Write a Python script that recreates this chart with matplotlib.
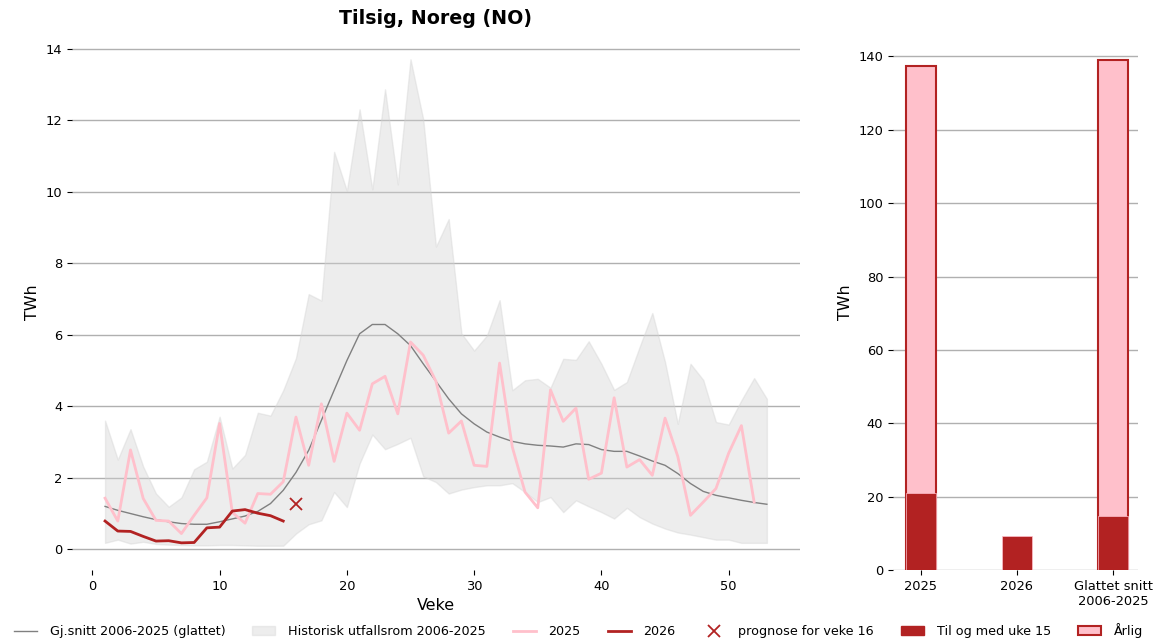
import numpy as np
import matplotlib
matplotlib.use("Agg")
import matplotlib.pyplot as plt
from matplotlib.lines import Line2D
from matplotlib.patches import Patch

weeks = list(range(1, 54))
hist_upper = [3.60, 2.51, 3.36, 2.31, 1.56, 1.19, 1.45, 2.24, 2.45, 3.71,
              2.26, 2.64, 3.82, 3.74, 4.45, 5.35, 7.14, 6.96, 11.12, 10.03,
              12.31, 10.07, 12.87, 10.21, 13.71, 12.03, 8.47, 9.24, 6.04, 5.56,
              5.98, 6.97, 4.45, 4.73, 4.77, 4.52, 5.33, 5.30, 5.82, 5.19,
              4.46, 4.68, 5.66, 6.61, 5.24, 3.51, 5.19, 4.74, 3.56, 3.49,
              4.17, 4.79, 4.21]
hist_lower = [0.18, 0.27, 0.16, 0.21, 0.15, 0.13, 0.12, 0.11, 0.11, 0.12,
              0.12, 0.11, 0.10, 0.10, 0.10, 0.44, 0.70, 0.81, 1.60, 1.18,
              2.40, 3.21, 2.80, 2.95, 3.12, 2.04, 1.88, 1.56, 1.67, 1.74,
              1.79, 1.79, 1.85, 1.60, 1.32, 1.46, 1.04, 1.37, 1.20, 1.04,
              0.86, 1.16, 0.90, 0.72, 0.58, 0.47, 0.41, 0.34, 0.27, 0.27,
              0.18, 0.18, 0.18]
avg_smoothed = [1.20, 1.09, 1.00, 0.91, 0.83, 0.77, 0.72, 0.70, 0.70, 0.77,
                0.85, 0.93, 1.06, 1.28, 1.65, 2.15, 2.77, 3.61, 4.45, 5.28,
                6.03, 6.29, 6.29, 6.03, 5.70, 5.19, 4.70, 4.21, 3.79, 3.51,
                3.28, 3.14, 3.02, 2.95, 2.91, 2.89, 2.86, 2.95, 2.93, 2.79,
                2.74, 2.74, 2.61, 2.47, 2.35, 2.12, 1.84, 1.62, 1.51, 1.44,
                1.37, 1.31, 1.26]
weeks_2025 = list(range(1, 53))
inflow_2025 = [1.43, 0.79, 2.78, 1.42, 0.81, 0.79, 0.44, 0.95, 1.44, 3.52,
               1.03, 0.73, 1.56, 1.54, 1.89, 3.70, 2.35, 4.07, 2.46, 3.81,
               3.33, 4.63, 4.84, 3.79, 5.80, 5.43, 4.70, 3.25, 3.59, 2.35,
               2.32, 5.21, 2.86, 1.60, 1.16, 4.46, 3.58, 3.95, 1.96, 2.13,
               4.24, 2.30, 2.51, 2.07, 3.67, 2.60, 0.95, 1.32, 1.70, 2.69,
               3.46, 1.32]
weeks_2026 = list(range(1, 16))
inflow_2026 = [0.79, 0.51, 0.50, 0.36, 0.23, 0.24, 0.18, 0.19, 0.60, 0.62,
               1.07, 1.11, 1.01, 0.94, 0.79]
forecast_week = [16]
forecast_value = [1.27]

bar_categories = ["2025", "2026", "Glattet snitt\n2006-2025"]
bar_to_week15 = [21.0, 9.2, 14.7]
bar_annual = [137.3, np.nan, 138.9]

plt.rcParams['font.family'] = ['DejaVu Sans']
fig = plt.figure(figsize=(11.57, 6.42), dpi=100)
ax = fig.add_axes([0.0622, 0.1121, 0.6292, 0.8334])
ax2 = fig.add_axes([0.7718, 0.1121, 0.2118, 0.8334])

grid_kw = dict(color='#b0b0b0', linewidth=1.0)
tick_fs = 9.4

ax.fill_between(weeks, hist_lower, hist_upper, color='lightgray', alpha=0.4,
                label='Historisk utfallsrom 2006-2025')
ax.plot(weeks, avg_smoothed, color='gray', linewidth=1.0,
        label='Gj.snitt 2006-2025 (glattet)')
ax.plot(weeks_2025, inflow_2025, color='pink', linewidth=2.0, label='2025')
ax.plot(weeks_2026, inflow_2026, color='firebrick', linewidth=2.0, label='2026')
ax.plot(forecast_week, forecast_value, linestyle='none', marker='x',
        color='firebrick', markersize=8, markeredgewidth=1.3,
        label='prognose for veke 16')
ax.set_axisbelow(True)
ax.yaxis.grid(True, **grid_kw)
for s in ax.spines.values():
    s.set_visible(False)
ax.set_xticks([0, 10, 20, 30, 40, 50])
ax.set_yticks([0, 2, 4, 6, 8, 10, 12, 14])
ax.tick_params(labelsize=tick_fs)
ax.set_xlabel('Veke', fontsize=11.4)
ax.set_ylabel('TWh', fontsize=11.4)
ax.set_title('Tilsig, Noreg (NO)', fontsize=13.7, fontweight='bold', pad=8)

x = np.arange(len(bar_categories))
ax2.bar(x, bar_annual, width=0.31, color='pink', edgecolor='firebrick',
        linewidth=1.5, label='Årlig')
ax2.bar(x, bar_to_week15, width=0.31, color='firebrick', edgecolor='pink',
        linewidth=0.5, label='Til og med uke 15')
ax2.set_axisbelow(True)
ax2.yaxis.grid(True, **grid_kw)
for s in ax2.spines.values():
    s.set_visible(False)
ax2.set_xlim(-0.29, 2.26)
ax2.set_xticks(x)
ax2.set_xticklabels(bar_categories)
ax2.set_yticks([0, 20, 40, 60, 80, 100, 120, 140])
ax2.tick_params(labelsize=tick_fs)
ax2.set_ylabel('TWh', fontsize=11.4)

handles = [
    Line2D([], [], color='gray', linewidth=1.0),
    Patch(facecolor='lightgray', alpha=0.4, edgecolor='lightgray'),
    Line2D([], [], color='pink', linewidth=2.0),
    Line2D([], [], color='firebrick', linewidth=2.0),
    Line2D([], [], linestyle='none', marker='x', color='firebrick',
           markersize=8, markeredgewidth=1.3),
    Patch(facecolor='firebrick', edgecolor='firebrick'),
    Patch(facecolor='pink', edgecolor='firebrick', linewidth=1.5),
]
labels = ['Gj.snitt 2006-2025 (glattet)', 'Historisk utfallsrom 2006-2025',
          '2025', '2026', 'prognose for veke 16', 'Til og med uke 15', 'Årlig']
fig.legend(handles, labels, loc='lower center', bbox_to_anchor=(0.5, -0.012),
           ncol=7, frameon=False, fontsize=9.2, handlelength=1.8,
           handletextpad=0.98, columnspacing=2.13)

fig.savefig('out.png', dpi=100)
